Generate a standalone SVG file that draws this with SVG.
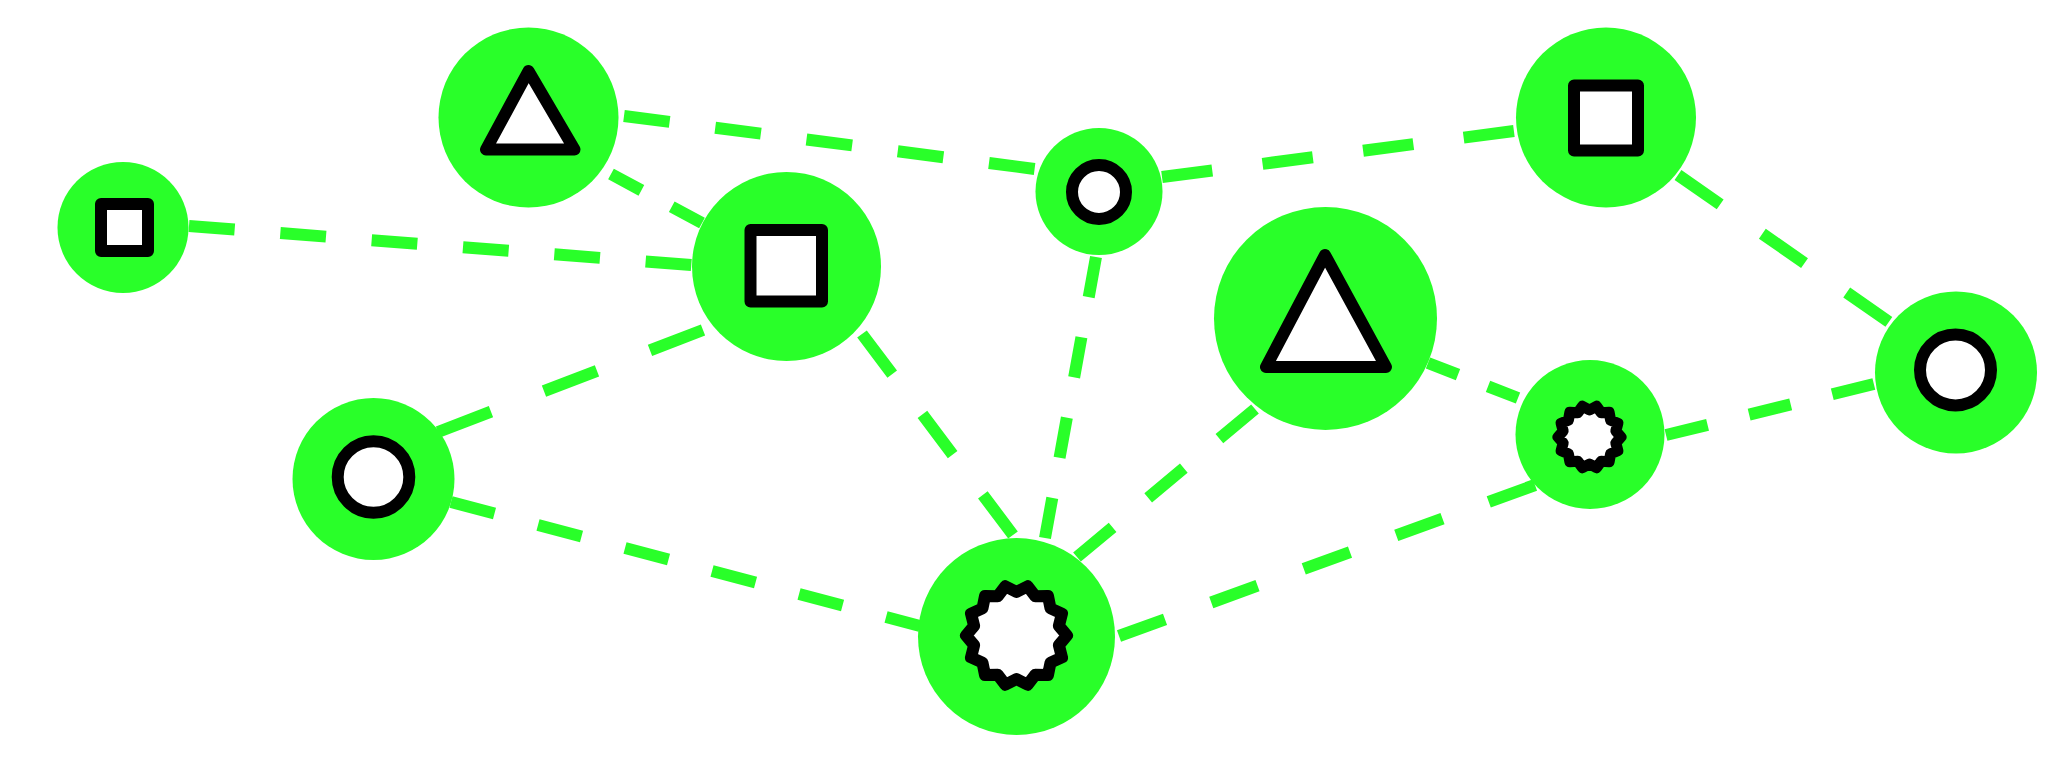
<svg xmlns="http://www.w3.org/2000/svg" width="2068" height="772" viewBox="0 0 2068 772">
<style>
.edge{fill:none;stroke:#29ff29;stroke-width:12}
.disc{fill:#29ff29}
.glyph{fill:#ffffff;stroke:#000000;stroke-width:12;stroke-linejoin:round}
</style>
<rect width="2068" height="772" fill="#ffffff"/>
<g id="connectors">
<path class="edge" d="M189,226 L692,265" stroke-dasharray="45.8 45.8"/>
<path class="edge" d="M624,116 L1035,169" stroke-dasharray="46 46"/>
<path class="edge" d="M611,174 L702,223" stroke-dasharray="34.5 34.5"/>
<path class="edge" d="M1162,177 L1514,131" stroke-dasharray="50.7 50.7"/>
<path class="edge" d="M1096,257 L1045,538" stroke-dasharray="40.8 40.8"/>
<path class="edge" d="M703,330 L438,432" stroke-dasharray="56.8 56.8"/>
<path class="edge" d="M862,334 L1013,535" stroke-dasharray="50.3 50.3"/>
<path class="edge" d="M451,502 L920,626" stroke-dasharray="45 45"/>
<path class="edge" d="M1255,409 L1077,557" stroke-dasharray="46.3 46.3"/>
<path class="edge" d="M1428,363 L1518,398" stroke-dasharray="32.2 32.2"/>
<path class="edge" d="M1535,485 L1119,636" stroke-dasharray="49.2 49.2"/>
<path class="edge" d="M1666,435 L1874,384" stroke-dasharray="42.8 42.8"/>
<path class="edge" d="M1678,175 L1889,322" stroke-dasharray="51.4 51.4"/>
</g>
<g id="node-triangle-small">
<circle class="disc" cx="528.5" cy="117.5" r="90"/>
<polygon class="glyph" points="528.5,71 486,149.5 574.5,149.5"/>
</g>
<g id="node-square-small">
<circle class="disc" cx="123" cy="227.5" r="65.5"/>
<rect class="glyph" x="101" y="204" width="47" height="47"/>
</g>
<g id="node-square-mid">
<circle class="disc" cx="786.5" cy="266.5" r="94.5"/>
<rect class="glyph" x="750.5" y="230" width="71.5" height="71.5"/>
</g>
<g id="node-circle-small">
<circle class="disc" cx="1099" cy="191.5" r="63.5"/>
<circle class="glyph" cx="1099" cy="192" r="27"/>
</g>
<g id="node-square-right">
<circle class="disc" cx="1606" cy="117.5" r="90"/>
<rect class="glyph" x="1574" y="85.5" width="64" height="65"/>
</g>
<g id="node-triangle-big">
<circle class="disc" cx="1325.5" cy="318.5" r="111.5"/>
<polygon class="glyph" points="1325,255 1266,367 1386,367"/>
</g>
<g id="node-circle-left">
<circle class="disc" cx="373.5" cy="479" r="81"/>
<circle class="glyph" cx="373.5" cy="477" r="35.8"/>
</g>
<g id="node-star-big">
<circle class="disc" cx="1016.5" cy="636.5" r="98.5"/>
<polygon class="glyph" transform="translate(1016.5 635.5)" points="11.24,-49.23 18.87,-39.19 31.49,-39.48 34.01,-27.12 45.5,-21.91 42.41,-9.68 50.5,0 42.41,9.68 45.5,21.91 34.01,27.12 31.49,39.48 18.87,39.19 11.24,49.23 0,43.5 -11.24,49.23 -18.87,39.19 -31.49,39.48 -34.01,27.12 -45.5,21.91 -42.41,9.68 -50.5,0 -42.41,-9.68 -45.5,-21.91 -34.01,-27.12 -31.49,-39.48 -18.87,-39.19 -11.24,-49.23 0,-43.5"/>
</g>
<g id="node-star-small">
<circle class="disc" cx="1590" cy="434.5" r="74.5"/>
<polygon class="glyph" style="stroke-width:11" transform="translate(1589.5 437)" points="7.01,-30.71 11.71,-24.33 19.64,-24.63 21.11,-16.83 28.38,-13.67 26.32,-6.01 31.5,0 26.32,6.01 28.38,13.67 21.11,16.83 19.64,24.63 11.71,24.33 7.01,30.71 0,27 -7.01,30.71 -11.71,24.33 -19.64,24.63 -21.11,16.83 -28.38,13.67 -26.32,6.01 -31.5,0 -26.32,-6.01 -28.38,-13.67 -21.11,-16.83 -19.64,-24.63 -11.71,-24.33 -7.01,-30.71 0,-27"/>
</g>
<g id="node-circle-right">
<circle class="disc" cx="1956" cy="372.5" r="81"/>
<circle class="glyph" cx="1955.5" cy="370" r="35.5"/>
</g>
</svg>
